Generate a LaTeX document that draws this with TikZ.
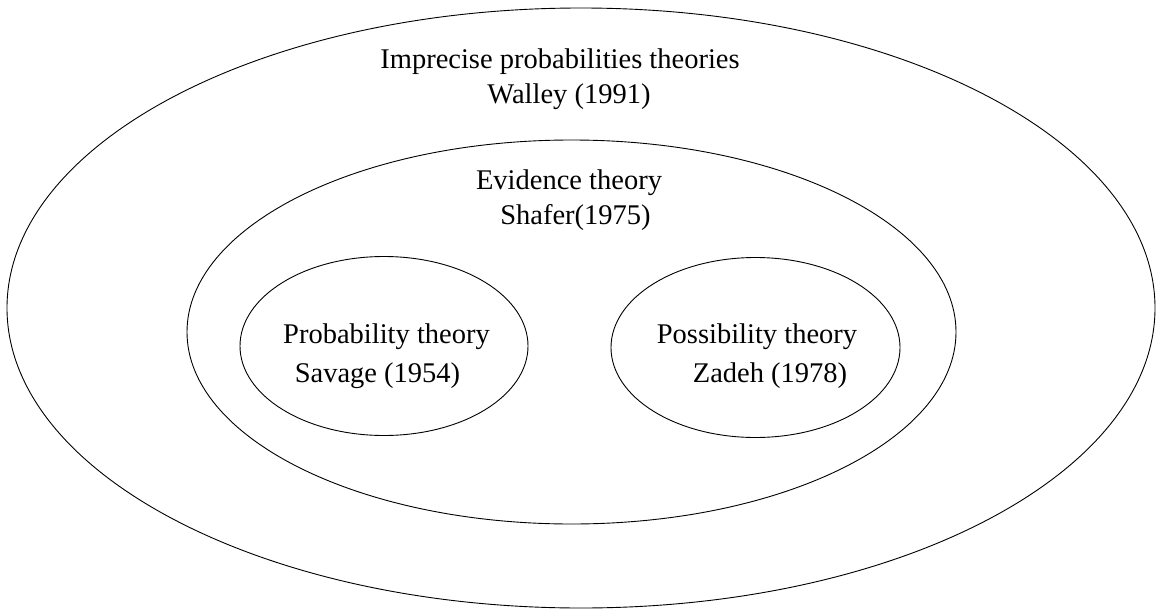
\documentclass[tikz,border=0pt]{standalone}
\usepackage{fontspec}
\setmainfont{Liberation Serif}
\usetikzlibrary{shapes.geometric}

\begin{document}
\begin{tikzpicture}[x=1pt, y=-1pt, line width=0.9pt,
        theoryset/.style={draw, ellipse, inner sep=0pt},
        settext/.style={anchor=base, inner sep=0pt, font=\fontsize{28.5}{34}\selectfont}]
            \useasboundingbox (0, 0) rectangle (1156, 610);
            % nested sets
            \node[theoryset, minimum width=1148pt, minimum height=600pt] (impr) at (581, 308) {};
            \node[theoryset, minimum width=769pt, minimum height=384pt] (evid) at (571.5, 332) {};
            \node[theoryset, minimum width=288pt, minimum height=179pt] (prob) at (384, 346) {};
            \node[theoryset, minimum width=289pt, minimum height=180pt] (poss) at (755.5, 347.5) {};
            % labels
            \node[settext] (imprName) at (560, 69) {Imprecise probabilities theories};
            \node[settext] (imprRef) at (569, 103) {Walley (1991)};
            \node[settext] (evidName) at (569, 189) {Evidence theory};
            \node[settext] (evidRef) at (575.5, 224) {Shafer(1975)};
            \node[settext] (probName) at (386.5, 343) {Probability theory};
            \node[settext] (probRef) at (377.5, 382) {Savage (1954)};
            \node[settext] (possName) at (757, 343) {Possibility theory};
            \node[settext] (possRef) at (770, 382) {Zadeh (1978)};
        \end{tikzpicture}
\end{document}
